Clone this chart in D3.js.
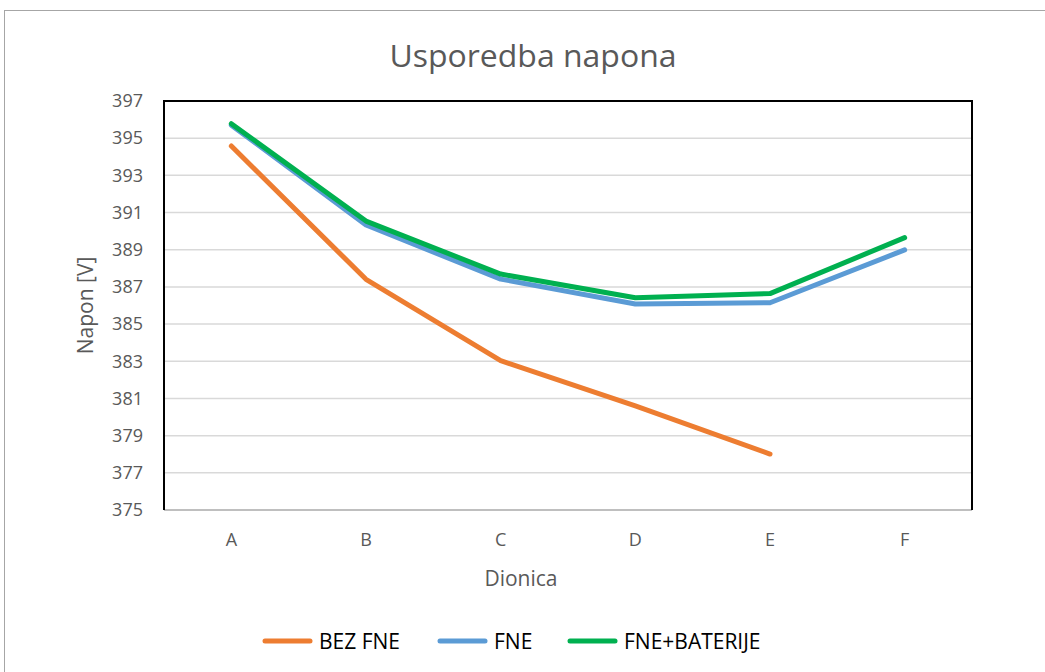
<!DOCTYPE html>
<html>
<head>
<meta charset="utf-8">
<script src="https://cdn.jsdelivr.net/npm/d3@7"></script>
<style>
  body { margin: 0; background: #fff; }
  svg { font-family: "Open Sans", sans-serif; }
</style>
</head>
<body>
<div id="chart"></div>
<script>
// Data
var categories = ["A", "B", "C", "D", "E", "F"];
var bezFne = [394.58, 387.41, 383.03, 380.6, 378.01, null];
var fne = [395.7, 390.33, 387.42, 386.08, 386.15, 388.99];
var fneBaterije = [395.78, 390.54, 387.69, 386.42, 386.64, 389.65];
var yTicks = [375, 377, 379, 381, 383, 385, 387, 389, 391, 393, 395, 397];

var seriesList = [
    { name: "BEZ FNE", values: bezFne, color: "#ED7D31" },
    { name: "FNE", values: fne, color: "#5B9BD5" },
    { name: "FNE+BATERIJE", values: fneBaterije, color: "#00B050" }
];

var svgWidth = 1045;
var svgHeight = 672;
var margin = { top: 101, right: 73, bottom: 162, left: 164 };
var width = svgWidth - margin.left - margin.right;
var height = svgHeight - margin.top - margin.bottom;

var svg = d3.select("#chart")
    .append("svg")
    .attr("width", svgWidth)
    .attr("height", svgHeight);

// Outer chart frame
svg.append("rect")
    .attr("x", 4.5)
    .attr("y", 10.5)
    .attr("width", 1060)
    .attr("height", 700)
    .attr("fill", "none")
    .attr("stroke", "#a6a6a6")
    .attr("stroke-width", 1);

// Title
svg.append("text")
    .attr("x", 533)
    .attr("y", 67)
    .attr("text-anchor", "middle")
    .attr("font-size", "31px")
    .attr("fill", "#595959")
    .attr("textLength", 287)
    .attr("lengthAdjust", "spacingAndGlyphs")
    .text("Usporedba napona");

var chartGroup = svg.append("g")
    .attr("transform", `translate(${margin.left}, ${margin.top})`);

var xScale = d3.scaleBand()
    .domain(categories)
    .range([0, width]);

var yScale = d3.scaleLinear()
    .domain([375, 397])
    .range([height, 0]);

// Gridlines
chartGroup.append("g")
    .selectAll("line")
    .data(yTicks)
    .enter()
    .append("line")
    .attr("x1", 0)
    .attr("x2", width)
    .attr("y1", d => yScale(d))
    .attr("y2", d => yScale(d))
    .attr("stroke", "#d9d9d9")
    .attr("stroke-width", 1.5);

// Y axis labels
var yAxis = d3.axisLeft(yScale).tickValues(yTicks).tickSize(0).tickPadding(21);
chartGroup.append("g")
    .call(yAxis)
    .call(g => g.select(".domain").remove())
    .selectAll("text")
    .attr("font-size", "18px")
    .attr("font-family", "Open Sans, sans-serif")
    .attr("fill", "#595959");

// X axis labels
var xAxis = d3.axisBottom(xScale).tickSize(0).tickPadding(23);
chartGroup.append("g")
    .attr("transform", `translate(0, ${height})`)
    .call(xAxis)
    .call(g => g.select(".domain").remove())
    .selectAll("text")
    .attr("font-size", "18px")
    .attr("font-family", "Open Sans, sans-serif")
    .attr("fill", "#595959");

// Plot area border: black on top/left/right, grey bottom axis line
chartGroup.append("line")
    .attr("x1", 0).attr("x2", width)
    .attr("y1", height).attr("y2", height)
    .attr("stroke", "#bfbfbf")
    .attr("stroke-width", 2);

chartGroup.append("path")
    .attr("d", `M0,${height}V0H${width}V${height}`)
    .attr("fill", "none")
    .attr("stroke", "#000")
    .attr("stroke-width", 2);

// Lines
var line = d3.line()
    .defined(d => d.value != null)
    .x(d => xScale(d.cat) + xScale.bandwidth() / 2)
    .y(d => yScale(d.value));

seriesList.forEach(function(s) {
    var points = categories.map((c, i) => ({ cat: c, value: s.values[i] }));
    chartGroup.append("path")
        .datum(points)
        .attr("d", line)
        .attr("fill", "none")
        .attr("stroke", s.color)
        .attr("stroke-width", 5)
        .attr("stroke-linecap", "round")
        .attr("stroke-linejoin", "round");
});

// Axis titles
svg.append("text")
    .attr("transform", `translate(93, ${margin.top + height / 2}) rotate(-90)`)
    .attr("text-anchor", "middle")
    .attr("font-size", "21px")
    .attr("fill", "#595959")
    .text("Napon [V]");

svg.append("text")
    .attr("x", 521)
    .attr("y", 586)
    .attr("text-anchor", "middle")
    .attr("font-size", "21px")
    .attr("fill", "#595959")
    .text("Dionica");

// Legend
var legendX = [265, 440, 570];
var legend = svg.append("g");
seriesList.forEach(function(s, i) {
    legend.append("line")
        .attr("x1", legendX[i])
        .attr("x2", legendX[i] + 45)
        .attr("y1", 641)
        .attr("y2", 641)
        .attr("stroke", s.color)
        .attr("stroke-width", 5)
        .attr("stroke-linecap", "round");
    legend.append("text")
        .attr("x", legendX[i] + 54)
        .attr("y", 649)
        .attr("font-size", "21px")
        .attr("fill", "#000")
        .text(s.name);
});
</script>
</body>
</html>
